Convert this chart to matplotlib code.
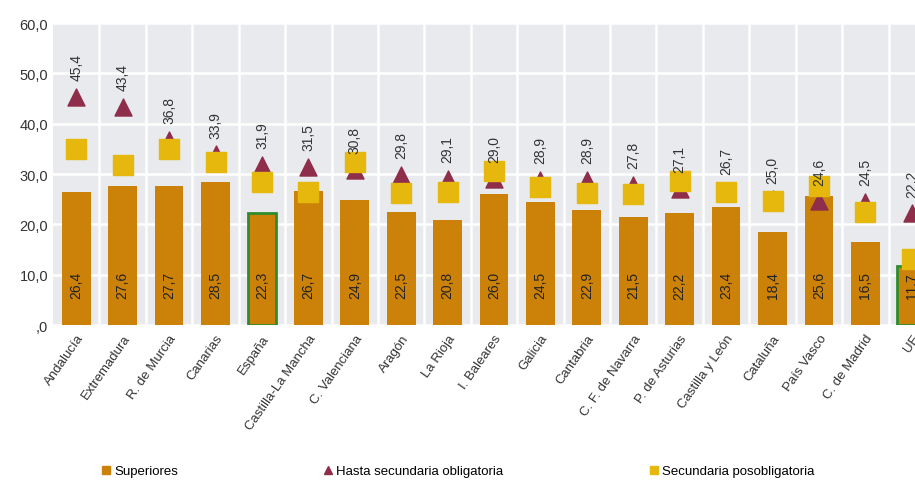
import numpy as np
import matplotlib.pyplot as plt
from matplotlib.lines import Line2D

plt.rcParams['font.family'] = ['Liberation Sans', 'DejaVu Sans']

regiones = ['Andalucía', 'Extremadura', 'R. de Murcia', 'Canarias', 'España',
            'Castilla-La Mancha', 'C. Valenciana', 'Aragón', 'La Rioja', 'I. Baleares',
            'Galicia', 'Cantabria', 'C. F. de Navarra', 'P. de Asturias', 'Castilla y León',
            'Cataluña', 'País Vasco', 'C. de Madrid', 'UE']
superiores = [26.4, 27.6, 27.7, 28.5, 22.3, 26.7, 24.9, 22.5, 20.8, 26.0,
              24.5, 22.9, 21.5, 22.2, 23.4, 18.4, 25.6, 16.5, 11.7]
hasta_oblig = [45.4, 43.4, 36.8, 33.9, 31.9, 31.5, 30.8, 29.8, 29.1, 29.0,
               28.9, 28.9, 27.8, 27.1, 26.7, 25.0, 24.6, 24.5, 22.2]
posoblig = [35.0, 31.8, 34.9, 32.4, 28.4, 26.4, 32.4, 26.2, 26.4, 30.6,
            27.4, 26.2, 26.0, 28.6, 26.5, 24.7, 27.6, 22.4, 13.1]
destacados = ['España', 'UE']

c_bar = '#CC8209'
c_tri = '#8E2E4A'
c_sq = '#E6B70C'

def fmt(v):
    return f'{v:.1f}'.replace('.', ',')

fig = plt.figure(figsize=(9.15, 4.81), dpi=100)
ax = fig.add_axes([0.058, 0.322, 0.942, 0.628])
ax.set_facecolor('#E8EAED')

x = np.arange(len(regiones))
edges = ['#2E8B2E' if r in destacados else c_bar for r in regiones]
lws = [2 if r in destacados else 0 for r in regiones]
ax.bar(x, superiores, width=0.62, color=c_bar, edgecolor=edges, linewidth=lws, zorder=2)
ax.scatter(x, hasta_oblig, marker='^', s=150, color=c_tri, zorder=3)
ax.scatter(x, posoblig, marker='s', s=190, color=c_sq, zorder=4)

for xi, v in zip(x, superiores):
    ax.text(xi, 8, fmt(v), rotation=90, ha='center', va='center', fontsize=10, color='#222222', zorder=5)
for xi, v in zip(x, hasta_oblig):
    ax.annotate(fmt(v), (xi, v), xytext=(0, 12), textcoords='offset points', rotation=90,
                ha='center', va='bottom', fontsize=10, color='#333333', zorder=5)

ax.set_ylim(0, 60)
ax.set_xlim(-0.5, 18.07)
ax.set_yticks(np.arange(0, 61, 10))
ax.set_yticklabels([',0'] + [fmt(v) for v in range(10, 61, 10)], fontsize=10.5, color='#333333')
ax.set_xticks(x)
ax.set_xticklabels(regiones, rotation=55, ha='right', rotation_mode='anchor', fontsize=9.5, color='#333333')
ax.set_xticks(x[:-1] + 0.5, minor=True)
ax.tick_params(axis='both', which='both', length=0)
ax.tick_params(axis='x', pad=5)
ax.grid(axis='y', color='white', linewidth=1.8, zorder=0)
ax.grid(axis='x', which='minor', color='white', linewidth=1.8, zorder=0)
ax.set_axisbelow(True)
for s in ax.spines.values():
    s.set_visible(False)

handles = [Line2D([], [], marker='s', ls='', color=c_bar, markersize=6),
           Line2D([], [], marker='^', ls='', color=c_tri, markersize=6),
           Line2D([], [], marker='s', ls='', color=c_sq, markersize=6)]
fig.legend(handles, ['Superiores', 'Hasta secundaria obligatoria', 'Secundaria posobligatoria'],
           loc='center', bbox_to_anchor=(0.5, 0.018), ncol=3, frameon=False, fontsize=9.5,
           columnspacing=11, handletextpad=0.2, handlelength=0.8)

fig.savefig('out.png', dpi=100)
